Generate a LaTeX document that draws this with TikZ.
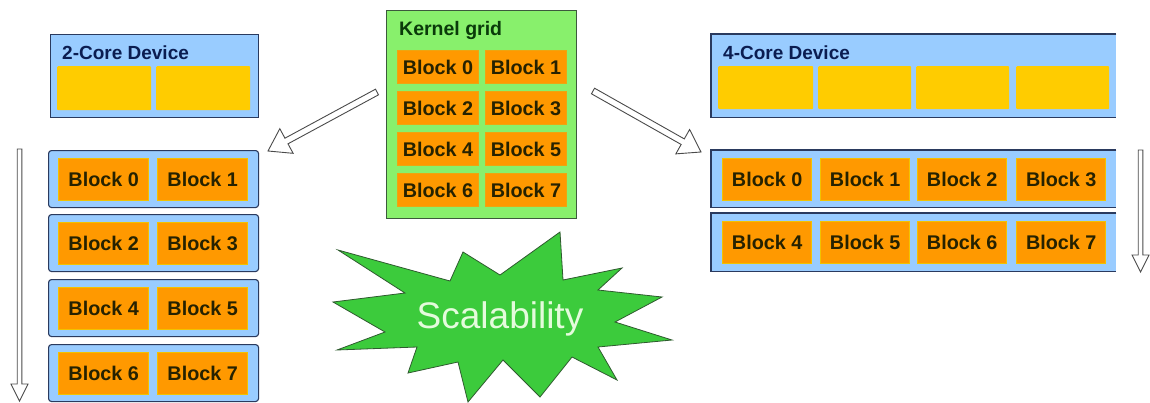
\documentclass[tikz,border=0pt]{standalone}
\usepackage{fontspec}
\setmainfont{Liberation Sans}
\usetikzlibrary{calc}

\definecolor{devblue}{HTML}{99CCFF}
\definecolor{devedge}{HTML}{2A3A5E}
\definecolor{devtitle}{HTML}{0B1D51}
\definecolor{coreyellow}{HTML}{FFCC00}
\definecolor{blkorange}{HTML}{FF9900}
\definecolor{blkedge}{HTML}{F2C200}
\definecolor{blktext}{HTML}{262200}
\definecolor{gridgreen}{HTML}{88F06C}
\definecolor{gridedge}{HTML}{3C5A3C}
\definecolor{gridtitle}{HTML}{0A3A0A}
\definecolor{stargreen}{HTML}{3CCB3C}
\definecolor{staredge}{HTML}{2F5A2F}
\definecolor{startext}{HTML}{E4FBDC}
\definecolor{arrowedge}{HTML}{4A4A4A}

\tikzset{
  devbox/.style={fill=devblue, draw=devedge, line width=1.1pt, inner sep=0pt, anchor=north west},
  devfill/.style={fill=devblue, draw=none, inner sep=0pt, anchor=north west},
  rowbox/.style={devbox, rounded corners=3pt},
  edgeline/.style={draw=devedge, line width=1.1pt},
  core/.style={fill=coreyellow, draw=none, inner sep=0pt, anchor=north west, rounded corners=1pt},
  blk/.style={fill=blkorange, draw=blkedge, line width=1.4pt, inner sep=0pt, anchor=north west,
    font=\fontsize{19.8}{20}\selectfont\bfseries, text=blktext},
  gblk/.style={blk, draw=blkorange!85!gridgreen, line width=1pt},
  title/.style={anchor=base west, inner sep=0pt, font=\fontsize{19}{20}\selectfont\bfseries},
  harrow/.style={draw=arrowedge, fill=white, line width=0.9pt, line join=miter},
  burst/.style={fill=stargreen, draw=staredge, line width=0.8pt, line join=miter},
}

% hollow block arrow: tail, tip, shaft half width, head half width, head length
\newcommand\hollowarrow[5]{%
  \coordinate (ha-base) at ($(#2)!#5!(#1)$);
  \draw[harrow]
    ($(#1)!#3!90:(#2)$) -- ($(ha-base)!#3!90:(#2)$) -- ($(ha-base)!#4!90:(#2)$)
    -- (#2)
    -- ($(ha-base)!#4!-90:(#2)$) -- ($(ha-base)!#3!-90:(#2)$) -- ($(#1)!#3!-90:(#2)$) -- cycle;
}

\begin{document}
\begin{tikzpicture}[x=1pt,y=-1pt]
\useasboundingbox (0,0) rectangle (1150,402);

% ---------- 2-core device ----------
\node[devbox, minimum width=208pt, minimum height=83pt] (dev2) at (50,34) {};
\node[title, text=devtitle] (dev2t) at (62,59) {2-Core Device};
\node[core, minimum width=94pt, minimum height=44pt] (c2a) at (57,66) {};
\node[core, minimum width=94pt, minimum height=44pt] (c2b) at (156,66) {};

% rows of blocks on the 2-core device
\foreach \r/\y/\a/\b in {0/150/0/1, 1/214/2/3, 2/279/4/5, 3/344/6/7} {
  \node[rowbox, minimum width=210pt, minimum height=57pt] (lrow\r) at (48,\y) {};
  \node[blk, minimum width=90pt, minimum height=42pt] (lb\a) at (58,\y+7.5) {Block \a};
  \node[blk, minimum width=90pt, minimum height=42pt] (lb\b) at (157,\y+7.5) {Block \b};
}

% ---------- kernel grid ----------
\node[fill=gridgreen, draw=gridedge, line width=0.9pt, inner sep=0pt, anchor=north west,
      minimum width=190pt, minimum height=208pt] (grid) at (386,10) {};
\node[title, text=gridtitle, font=\fontsize{19.5}{20}\selectfont\bfseries] (gridt) at (399,35) {Kernel grid};
\foreach \r/\y in {0/50, 1/91, 2/132, 3/173} {
  \pgfmathtruncatemacro\a{2*\r}
  \pgfmathtruncatemacro\b{2*\r+1}
  \node[gblk, minimum width=81pt, minimum height=33pt] (kb\a) at (397,\y) {Block \a};
  \node[gblk, minimum width=81pt, minimum height=33pt] (kb\b) at (485,\y) {Block \b};
}

% ---------- 4-core device ----------
\node[devfill, minimum width=405pt, minimum height=83pt] (dev4) at (711,34) {};
\draw[edgeline] (dev4.north east) -- (dev4.north west) -- (dev4.south west) -- (dev4.south east);
\node[title, text=devtitle] (dev4t) at (723,59) {4-Core Device};
\foreach \i/\x/\w in {0/718/95, 1/818/93, 2/916/93, 3/1016/93}
  \node[core, minimum width=\w pt, minimum height=43pt] (c4\i) at (\x,66) {};

% rows of blocks on the 4-core device
\foreach \r/\y/\h in {0/150/57, 1/213/58} {
  \node[devfill, minimum width=405pt, minimum height=\h pt] (rrow\r) at (711,\y) {};
  \draw[edgeline] (rrow\r.north east) -- (rrow\r.north west) -- (rrow\r.south west) -- (rrow\r.south east);
  \foreach \c/\x in {0/722, 1/820, 2/917, 3/1016} {
    \pgfmathtruncatemacro\n{4*\r+\c}
    \node[blk, minimum width=89pt, minimum height=42pt] (rb\n) at (\x,\y+8) {Block \n};
  }
}

% ---------- arrows ----------
\coordinate (toLeftTail) at (377,92);
\coordinate (toLeftTip) at (268,151);
\coordinate (toRightTail) at (593,91);
\coordinate (toRightTip) at (701,152);
\hollowarrow{toLeftTail}{toLeftTip}{3.2pt}{14pt}{21pt}
\hollowarrow{toRightTail}{toRightTip}{3.2pt}{14pt}{21pt}

\coordinate (leftOrderTop) at (19.5,149);
\coordinate (leftOrderEnd) at (19.5,401);
\coordinate (rightOrderTop) at (1140.5,150);
\coordinate (rightOrderEnd) at (1140.5,272);
\hollowarrow{leftOrderTop}{leftOrderEnd}{2.3pt}{8.5pt}{17pt}
\hollowarrow{rightOrderTop}{rightOrderEnd}{2.3pt}{8.5pt}{17pt}

% ---------- scalability burst ----------
\draw[burst] (338,250) -- (450,281) -- (463,252) -- (500,275) -- (560,232) -- (563,280)
  -- (622,268) -- (598,290) -- (662,297) -- (615,322) -- (672,340) -- (598,347)
  -- (617,380) -- (572,357) -- (540,397) -- (503,360) -- (468,402) -- (458,362)
  -- (408,373) -- (417,347) -- (337,350) -- (385,332) -- (333,302) -- (405,293) -- cycle;
\node[anchor=base, inner sep=0pt, text=startext, font=\fontsize{37}{40}\selectfont] (scal) at (500,328) {Scalability};

\end{tikzpicture}
\end{document}
